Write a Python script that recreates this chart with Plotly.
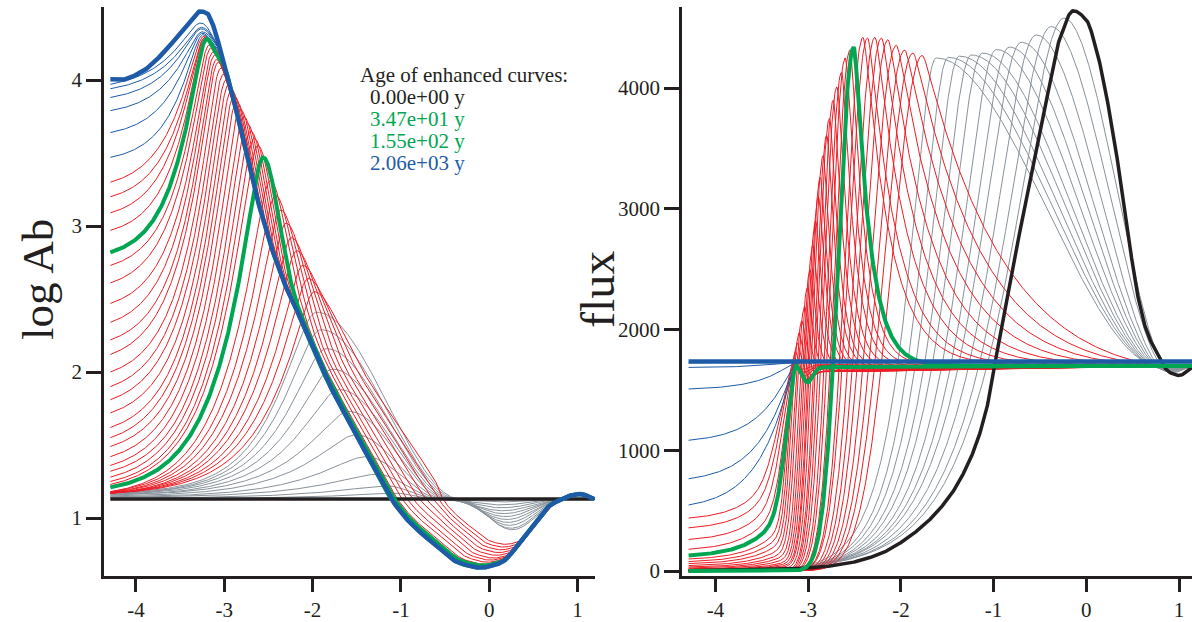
import numpy as np
import plotly.graph_objects as go

# ======================= DATA =======================
# ---- left panel: log Ab ----
BASE_AB = 1.13                      # initial flat profile (0.00e+00 y)
# thick blue curve (2.06e+03 y)
BLUE_X = [-4.29, -4.18, -3.95, -3.73, -3.50, -3.35, -3.27, -3.20, -3.13, -3.05, -2.90, -2.70, -2.48, -2.30,
          -2.14, -1.92, -1.66, -1.38, -1.12, -0.93, -0.64, -0.33, -0.10, 0.12, 0.43, 0.72, 1.03, 1.19]
BLUE_Y = [4.005, 4.00, 4.05, 4.16, 4.32, 4.43, 4.47, 4.46, 4.38, 4.22, 3.88, 3.36, 2.88, 2.58,
          2.37, 2.05, 1.74, 1.43, 1.14, 0.99, 0.83, 0.69, 0.66, 0.69, 0.90, 1.10, 1.165, 1.13]
# descending flank that the red curves settle on
FLANK_X = [-4.6, -3.6, -3.3, -3.17, -3.05, -2.95, -2.90, -2.70, -2.48, -2.30, -2.14, -1.92, -1.66, -1.38,
           -1.12, -0.93, -0.64, -0.33, -0.10, 0.12, 0.43, 0.72, 1.03, 1.19]
FLANK_Y = [5.6, 4.75, 4.42, 4.30, 4.20, 4.00, 3.88, 3.36, 2.88, 2.58, 2.37, 2.05, 1.74, 1.43,
           1.14, 0.99, 0.83, 0.69, 0.66, 0.69, 0.90, 1.10, 1.165, 1.13]
SHIFT_GX = [-5.0, -2.0, -0.6, 0.85, 2.0]
SHIFT_GY = [0.55, 0.55, 1.0, 0.0, 0.0]

# grey curves (early ages): left value, peak x, peak y, left width, zero crossing, dip depth
GRAY_L = [1.13, 1.135, 1.14, 1.14, 1.145, 1.15, 1.15, 1.155, 1.16, 1.16, 1.165]
GRAY_XP = [-1.05, -1.15, -1.27, -1.39, -1.50, -1.58, -1.69, -1.77, -1.84, -1.90, -1.95]
GRAY_YP = [1.17, 1.22, 1.30, 1.42, 1.57, 1.73, 1.88, 2.02, 2.16, 2.29, 2.41]
GRAY_S = [0.80, 0.75, 0.70, 0.65, 0.60, 0.56, 0.52, 0.49, 0.46, 0.44, 0.42]
GRAY_XZ = [-0.62, -0.60, -0.57, -0.54, -0.51, -0.48, -0.45, -0.42, -0.39, -0.36, -0.33]
GRAY_DIP = [0.02, 0.04, 0.06, 0.08, 0.10, 0.12, 0.14, 0.16, 0.18, 0.20, 0.21]

# thin red curves
RED_L = [1.17, 1.17, 1.17, 1.17, 1.17, 1.175, 1.175, 1.18, 1.18,
         1.23, 1.25, 1.28, 1.32, 1.36, 1.42, 1.49, 1.55, 1.62, 1.72, 1.81, 1.90, 2.00, 2.12, 2.22, 2.34,
         2.47, 2.61, 2.73,
         2.97, 3.09, 3.20, 3.30]
RED_XP = [-1.98, -2.05, -2.11, -2.18, -2.24, -2.30, -2.36, -2.42, -2.48,
          -2.62, -2.66, -2.70, -2.74, -2.78, -2.82, -2.86, -2.89, -2.92, -2.95, -2.98, -3.01, -3.04,
          -3.07, -3.09, -3.11, -3.13, -3.15, -3.17,
          -3.21, -3.22, -3.22, -3.23]
RED_YP = [2.55, 2.64, 2.73, 2.83, 2.92, 3.02, 3.11, 3.21, 3.31,
          3.55, 3.60, 3.65, 3.70, 3.75, 3.80, 3.85, 3.89, 3.93, 3.97, 4.00, 4.04, 4.08, 4.12, 4.14,
          4.17, 4.19, 4.22, 4.24,
          4.28, 4.29, 4.29, 4.30]
RED_S = [0.50, 0.49, 0.48, 0.47, 0.46, 0.45, 0.45, 0.44, 0.44,
         0.42, 0.41, 0.41, 0.40, 0.40, 0.39, 0.38, 0.38, 0.37, 0.36, 0.36, 0.35, 0.34, 0.34, 0.33,
         0.33, 0.32, 0.32, 0.31,
         0.30, 0.31, 0.32, 0.33]
RED_SHIFT = [0.62, 0.55, 0.48, 0.41, 0.34, 0.27, 0.20, 0.14, 0.08,
             0.035, 0.03, 0.028, 0.025, 0.022, 0.02, 0.018, 0.015, 0.012, 0.01, 0.008, 0.006, 0.005,
             0.004, 0.003, 0.002, 0.001, 0.0, 0.0,
             0.0, 0.0, 0.0, 0.0]
RED_DIP = [0.66, 0.70, 0.74, 0.78, 0.82, 0.86, 0.89, 0.92, 0.95,
           0.97, 0.975, 0.98, 0.98, 0.985, 0.99, 0.99, 0.99, 0.995, 0.995, 1.0, 1.0, 1.0, 1.0, 1.0,
           1.0, 1.0, 1.0, 1.0,
           1.0, 1.0, 1.0, 1.0]

# thick green curves (3.47e+01 y, 1.55e+02 y)
GREEN_L = [1.21, 2.82]
GREEN_XP = [-2.56, -3.20]
GREEN_YP = [3.47, 4.28]
GREEN_S = [0.42, 0.30]
GREEN_SHIFT = [0.04, 0.0]
GREEN_DIP = [0.97, 1.0]

# thin blue curves
BTHIN_L = [3.47, 3.64, 3.79, 3.88, 3.94, 3.97]
BTHIN_XP = [-3.24, -3.25, -3.25, -3.26, -3.26, -3.27]
BTHIN_YP = [4.31, 4.32, 4.33, 4.35, 4.36, 4.39]
BTHIN_S = [0.30, 0.32, 0.34, 0.36, 0.38, 0.40]

# ---- right panel: flux ----
BLACK_FX = [-4.29, -3.6, -3.0, -2.6, -2.23, -1.87, -1.51, -1.26, -1.08, -0.99, -0.90, -0.86, -0.72, -0.58,
            -0.43, -0.29, -0.14, 0.0, 0.11, 0.25, 0.40, 0.55, 0.66, 0.75, 0.89, 1.0, 1.14]
BLACK_FY = [2, 8, 25, 60, 141, 307, 581, 913, 1328, 1700, 2080, 2250, 2800, 3345,
            3900, 4400, 4640, 4565, 4315, 3800, 3080, 2300, 1967, 1826, 1650, 1620, 1685]

GF_XP = [-0.24, -0.38, -0.54, -0.70, -0.83, -0.97, -1.12, -1.24, -1.37, -1.49, -1.62]
GF_YP = [4580, 4510, 4440, 4380, 4340, 4320, 4290, 4275, 4265, 4255, 4250]
GF_K = [0.95, 0.90, 0.85, 0.80, 0.75, 0.70, 0.65, 0.61, 0.57, 0.53, 0.50]
GF_XE = [0.93, 0.91, 0.89, 0.88, 0.87, 0.86, 0.85, 0.84, 0.83, 0.82, 0.81]
GF_P = [1640, 1645, 1650, 1655, 1660, 1665, 1670, 1675, 1680, 1685, 1690]

RF_L = [0, 0, 0, 0, 0, 0, 0, 0, 0,
        0, 0, 0, 0, 0, 0, 0, 2, 4, 6, 8, 12, 16, 22, 30, 40, 55, 70, 90,
        165, 245, 340, 420]
RF_XP = [-1.77, -1.87, -1.96, -2.05, -2.14, -2.21, -2.28, -2.36, -2.41,
         -2.55, -2.60, -2.64, -2.69, -2.73, -2.77, -2.80, -2.84, -2.87, -2.89, -2.92, -2.95, -2.98,
         -3.01, -3.04, -3.07, -3.10, -3.12, -3.14,
         -3.14, -3.15, -3.16, -3.17]
RF_YP = [4270, 4290, 4315, 4355, 4400, 4415, 4420, 4415, 4420,
         4315, 4250, 4130, 4010, 3900, 3750, 3610, 3440, 3260, 3100, 2900, 2700, 2500, 2350, 2200,
         2080, 1980, 1900, 1830,
         1725, 1728, 1730, 1732]
RF_W = [0.46, 0.43, 0.40, 0.37, 0.34, 0.32, 0.30, 0.28, 0.26,
        0.22, 0.21, 0.20, 0.19, 0.18, 0.17, 0.16, 0.15, 0.145, 0.14, 0.135, 0.13, 0.125, 0.12, 0.12,
        0.115, 0.11, 0.11, 0.11,
        0.16, 0.18, 0.20, 0.22]
RF_FOOT = [0, 0, 0, 0, 0, 0, 0, 0, 0,
           0, 0, 0, 0, 0, 0, 0.01, 0.02, 0.03, 0.04, 0.05, 0.06, 0.08, 0.10, 0.12, 0.15, 0.18, 0.22, 0.26,
           0.45, 0.50, 0.55, 0.60]
RF_TAU = [0.80, 0.70, 0.61, 0.53, 0.46, 0.40, 0.35, 0.31, 0.28,
          0.15, 0.14, 0.13, 0.12, 0.11, 0.10, 0.095, 0.09, 0.085, 0.08, 0.075, 0.07, 0.065, 0.06, 0.06,
          0.055, 0.05, 0.05, 0.05,
          0.04, 0.04, 0.04, 0.04]
RF_P = [1725, 1722, 1720, 1718, 1716, 1714, 1712, 1710, 1708,
        1700, 1695, 1690, 1685, 1680, 1676, 1672, 1668, 1665, 1662, 1660, 1658, 1656, 1655, 1654,
        1653, 1652, 1652, 1650,
        1692, 1698, 1704, 1710]
RF_DIP = [0, 0, 0, 0, 0, 0, 0, 0, 0,
          0, 0, 0, 0, 0, 0, 0, 0, 0, 0, 10, 20, 30, 40, 50, 60, 70, 80, 90,
          110, 85, 60, 40]

GRF_L = [0, 116]
GRF_XP = [-2.51, -3.13]
GRF_YP = [4340, 1720]
GRF_W = [0.23, 0.15]
GRF_FOOT = [0.0, 0.40]
GRF_TAU = [0.16, 0.04]
GRF_P = [1700, 1690]
GRF_DIP = [0, 130]

BF_L = [505, 730, 1060, 1500, 1685, 1725]
BLUE_FLUX = 1735

LEGEND_LINES = ["Age of enhanced curves:", "0.00e+00 y", "3.47e+01 y", "1.55e+02 y", "2.06e+03 y"]

# ======================= helpers =======================
GRAY = "#88929b"
RED = "#ed1c24"
GREEN = "#00a651"
BLUE = "#1d5ba8"
BLACK = "#231f20"
FONT = "Liberation Serif"

XL = np.linspace(-4.29, 1.19, 800)
XR = np.linspace(-4.29, 1.14, 800)


def S(t):
    t = np.clip(t, 0.0, 1.0)
    return t * t * (3 - 2 * t)


def pchip(xk, yk, x):
    xk = np.asarray(xk, float)
    yk = np.asarray(yk, float)
    x = np.clip(np.asarray(x, float), xk[0], xk[-1])
    h = np.diff(xk)
    d = np.diff(yk) / h
    n = len(xk)
    m = np.zeros(n)
    m[0] = d[0]
    m[-1] = d[-1]
    for k in range(1, n - 1):
        if d[k - 1] * d[k] > 0:
            w1 = 2 * h[k] + h[k - 1]
            w2 = h[k] + 2 * h[k - 1]
            m[k] = (w1 + w2) / (w1 / d[k - 1] + w2 / d[k])
    i = np.clip(np.searchsorted(xk, x) - 1, 0, n - 2)
    t = (x - xk[i]) / h[i]
    h00 = 2 * t**3 - 3 * t**2 + 1
    h10 = t**3 - 2 * t**2 + t
    h01 = -2 * t**3 + 3 * t**2
    h11 = t**3 - t**2
    return h00 * yk[i] + h10 * h[i] * m[i] + h01 * yk[i + 1] + h11 * h[i] * m[i + 1]


EB = pchip(BLUE_X, BLUE_Y, XL)


def to_blue_end(v):
    b2 = S((XL - 0.72) / 0.3)
    return (1 - b2) * v + b2 * EB


def ab_red(L, xp, yp, s, d0, m):
    x = XL
    c = 0.1
    k = np.clip((xp + 3.2) / 1.2, 0, 1)
    wm = 1.3 + 0.5 * k
    wb = 0.25 + 0.4 * k
    # left-edge value equals the value
    u0 = xp - x[0]
    f0 = np.exp(-(np.sqrt(u0 * u0 + c * c) - c) / s)
    Le = (L - yp * f0) / (1 - f0)
    u = xp - x
    left = Le + (yp - Le) * np.exp(-(np.sqrt(u * u + c * c) - c) / s)
    um = (x - xp) / wm
    pk = Le + (yp - Le) * np.exp(-(np.sqrt(um * um + c * c) - c) / s)
    xs = x - d0 * np.interp(x, SHIFT_GX, SHIFT_GY)
    F = pchip(FLANK_X, FLANK_Y, xs)
    wgt = 0.5 * (1 + np.tanh((F - BASE_AB) / 0.08))
    F = BASE_AB + (F - BASE_AB) * (wgt + (1 - wgt) * m)
    b = S((x - xp) / wb)
    right = (1 - b) * pk + b * F
    v = np.where(x <= xp, left, right)
    return to_blue_end(v)


def ab_gray(L, xp, yp, s, xz, dm):
    x = XL
    c = 0.25
    u = xp - x
    left = L + (yp - L) * np.exp(-(np.sqrt(u * u + c * c) - c) / s)
    t = (x - xp) / (xz - xp)
    right = BASE_AB + (yp - BASE_AB) * (1 - S(t))
    t2 = np.clip((x - xz) / (0.85 - xz), 0, 1)
    right = right - dm * np.sin(np.pi * t2) ** 2
    v = np.where(x <= xp, left, right)
    return to_blue_end(v)


def flux_red(L, xp, yp, w, phi, tau, P, dip):
    x = XR
    u = np.maximum(xp - x, 0)
    rise = (1 - phi) * np.exp(-(u / w) ** 2) + phi * np.exp(-u / 0.3)
    left = L + (yp - L) * rise
    d = np.maximum(x - xp, 0)
    t = np.clip(d / (0.75 - xp), 0, 1)
    eps = 0.03
    D = np.exp(-(np.sqrt(d * d + eps * eps) - eps) / tau) * (1 - t**3)
    Pl = P + (1700 - P) * S(d / (1.14 - xp))
    right = Pl + (yp - P) * D
    v = np.where(x <= xp, left, right)
    v = v - dip * np.exp(-((x - xp - 0.12) / 0.08) ** 2)
    return v


def flux_gray(xp, yp, k, xe, P):
    x = XR
    sig = 0.52 * k
    c = 0.485 * k
    u = np.maximum(xp - x, 0)
    left = yp * np.exp(-(np.sqrt(u * u + c * c) - c) / sig)
    d = np.maximum(x - xp, 0)
    t = np.clip(d / (xe - xp), 0, 1)
    right = P + (yp - P) * (1 - S(t)) + (1690 - P) * S((x - xe) / (1.14 - xe))
    return np.where(x <= xp, left, right)


def flux_blue(L):
    x = XR
    u = np.maximum(-3.10 - x, 0)
    c = 0.08
    h = np.exp(-(np.sqrt(u * u + c * c) - c) / 0.33)
    return L + (BLUE_FLUX - L) * h


# ======================= figure =======================
fig = go.Figure()


def add(x, y, color, width, xa="x", ya="y"):
    fig.add_trace(go.Scatter(x=x, y=y, mode="lines", line=dict(color=color, width=width),
                             hoverinfo="skip", xaxis=xa, yaxis=ya, showlegend=False))


# ---- left panel ----
for i in range(len(GRAY_XP)):
    add(XL, ab_gray(GRAY_L[i], GRAY_XP[i], GRAY_YP[i], GRAY_S[i], GRAY_XZ[i], GRAY_DIP[i]), GRAY, 1)
for i in range(len(RED_XP)):
    add(XL, ab_red(RED_L[i], RED_XP[i], RED_YP[i], RED_S[i], RED_SHIFT[i], RED_DIP[i]), RED, 1)
for i in range(len(BTHIN_XP)):
    add(XL, ab_red(BTHIN_L[i], BTHIN_XP[i], BTHIN_YP[i], BTHIN_S[i], 0.0, 1.0), BLUE, 1)
add([XL[0], XL[-1]], [BASE_AB, BASE_AB], BLACK, 3.5)
for i in range(len(GREEN_XP)):
    add(XL, ab_red(GREEN_L[i], GREEN_XP[i], GREEN_YP[i], GREEN_S[i], GREEN_SHIFT[i], GREEN_DIP[i]), GREEN, 4)
add(XL, EB, BLUE, 4.5)

# ---- right panel ----
for i in range(len(GF_XP)):
    add(XR, flux_gray(GF_XP[i], GF_YP[i], GF_K[i], GF_XE[i], GF_P[i]), GRAY, 1, "x2", "y2")
for i in range(len(RF_XP)):
    add(XR, flux_red(RF_L[i], RF_XP[i], RF_YP[i], RF_W[i], RF_FOOT[i], RF_TAU[i], RF_P[i], RF_DIP[i]),
        RED, 1, "x2", "y2")
for i in range(len(BF_L)):
    add(XR, flux_blue(BF_L[i]), BLUE, 1, "x2", "y2")
add(XR, pchip(BLACK_FX, BLACK_FY, XR), BLACK, 3.5, "x2", "y2")
for i in range(len(GRF_XP)):
    add(XR, flux_red(GRF_L[i], GRF_XP[i], GRF_YP[i], GRF_W[i], GRF_FOOT[i], GRF_TAU[i], GRF_P[i], GRF_DIP[i]),
        GREEN, 4, "x2", "y2")
add([XR[0], XR[-1]], [BLUE_FLUX, BLUE_FLUX], BLUE, 4.5, "x2", "y2")

W, H = 1192, 622
YDOM = [1 - 576 / H, 1 - 7 / H]
axis_common = dict(showline=True, linecolor=BLACK, linewidth=2.5, ticks="outside",
                   tickwidth=2.5, tickcolor=BLACK, showgrid=False, zeroline=False,
                   tickfont=dict(family=FONT, size=21, color=BLACK))
xticks = [-4, -3, -2, -1, 0, 1]
xtext = ["-4", "-3", "-2", "-1", "0", "1"]

fig.update_layout(
    width=W, height=H, margin=dict(l=0, r=0, t=0, b=0, autoexpand=False),
    autosize=False,
    plot_bgcolor="white", paper_bgcolor="white", showlegend=False,
    font=dict(family=FONT, size=21, color=BLACK),
    xaxis=dict(domain=[104 / W, 595 / W], range=[-4.362, 1.198], anchor="y", ticklen=13,
               tickvals=xticks, ticktext=xtext, **axis_common),
    yaxis=dict(domain=YDOM, range=[0.603, 4.50], anchor="x", ticklen=15,
               tickvals=[1, 2, 3, 4], ticktext=["1", "2", "3", "4"], **axis_common),
    xaxis2=dict(domain=[682 / W, 1.0], range=[-4.361, 1.14], anchor="y2", ticklen=13,
                tickvals=xticks, ticktext=xtext, **axis_common),
    yaxis2=dict(domain=YDOM, range=[-41, 4672], anchor="x2", ticklen=15,
                tickvals=[0, 1000, 2000, 3000, 4000], ticktext=["0", "1000", "2000", "3000", "4000"],
                **axis_common),
)

# axis titles
fig.add_annotation(x=38 / W, y=1 - 280 / H, xref="paper", yref="paper", text="log Ab", showarrow=False,
                   textangle=-90, font=dict(family=FONT, size=45, color=BLACK), xanchor="center", yanchor="middle")
fig.add_annotation(x=597 / W, y=1 - 290 / H, xref="paper", yref="paper", text="flux", showarrow=False,
                   textangle=-90, font=dict(family=FONT, size=48, color=BLACK), xanchor="center", yanchor="middle")

# legend text
leg_colors = [BLACK, BLACK, GREEN, GREEN, BLUE]
leg_x = [358, 368, 368, 368, 368]
leg_y = [75, 97, 119, 141, 163]
for txt, col, lx, ly in zip(LEGEND_LINES, leg_colors, leg_x, leg_y):
    fig.add_annotation(x=lx / W, y=1 - ly / H, xref="paper", yref="paper", text=txt, showarrow=False,
                       xanchor="left", yanchor="middle", font=dict(family=FONT, size=21, color=col))

fig.write_html(
    "out.html",
    config={"responsive": False, "displayModeBar": False},
    post_script="document.body.style.margin='0px';document.body.style.padding='0px';"
                "document.documentElement.style.overflow='hidden';",
)
